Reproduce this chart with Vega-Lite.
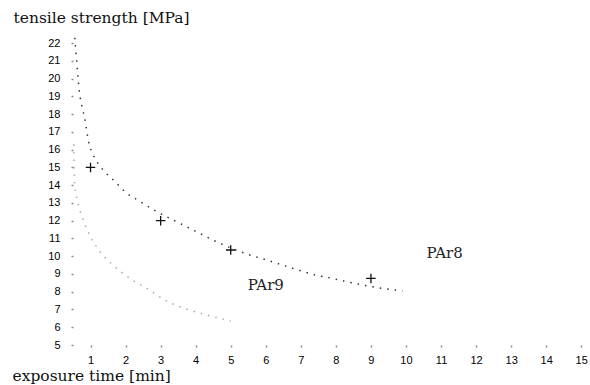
{
  "$schema": "https://vega.github.io/schema/vega-lite/v6.json",
  "width": 517,
  "height": 309,
  "autosize": {"type": "none"},
  "padding": {"left": 73, "top": 36, "right": 0, "bottom": 40},
  "background": "white",
  "config": {"view": {"stroke": null}},
  "datasets": {
    "curves": [
      {"series": "PAr8", "t": 0.55, "s": 22.3},
      {"series": "PAr8", "t": 0.58, "s": 21.6},
      {"series": "PAr8", "t": 0.62, "s": 20.6},
      {"series": "PAr8", "t": 0.68, "s": 19.3},
      {"series": "PAr8", "t": 0.76, "s": 18.4},
      {"series": "PAr8", "t": 0.83, "s": 17.8},
      {"series": "PAr8", "t": 0.94, "s": 16.5},
      {"series": "PAr8", "t": 1.1, "s": 15.6},
      {"series": "PAr8", "t": 1.3, "s": 15.0},
      {"series": "PAr8", "t": 1.7, "s": 14.2},
      {"series": "PAr8", "t": 2.0, "s": 13.6},
      {"series": "PAr8", "t": 2.4, "s": 13.1},
      {"series": "PAr8", "t": 2.9, "s": 12.5},
      {"series": "PAr8", "t": 3.5, "s": 11.9},
      {"series": "PAr8", "t": 4.1, "s": 11.3},
      {"series": "PAr8", "t": 4.5, "s": 10.9},
      {"series": "PAr8", "t": 5.5, "s": 10.1},
      {"series": "PAr8", "t": 6.0, "s": 9.8},
      {"series": "PAr8", "t": 6.8, "s": 9.3},
      {"series": "PAr8", "t": 7.4, "s": 8.95},
      {"series": "PAr8", "t": 7.9, "s": 8.75},
      {"series": "PAr8", "t": 8.7, "s": 8.4},
      {"series": "PAr8", "t": 9.3, "s": 8.2},
      {"series": "PAr8", "t": 9.9, "s": 8.05},
      {"series": "PAr9", "t": 0.52, "s": 16.3},
      {"series": "PAr9", "t": 0.53, "s": 15.0},
      {"series": "PAr9", "t": 0.55, "s": 14.0},
      {"series": "PAr9", "t": 0.62, "s": 13.2},
      {"series": "PAr9", "t": 0.8, "s": 12.0},
      {"series": "PAr9", "t": 1.0, "s": 11.1},
      {"series": "PAr9", "t": 1.25, "s": 10.3},
      {"series": "PAr9", "t": 1.7, "s": 9.4},
      {"series": "PAr9", "t": 2.2, "s": 8.65},
      {"series": "PAr9", "t": 2.6, "s": 8.2},
      {"series": "PAr9", "t": 3.15, "s": 7.5},
      {"series": "PAr9", "t": 3.7, "s": 7.05},
      {"series": "PAr9", "t": 4.3, "s": 6.7},
      {"series": "PAr9", "t": 5.0, "s": 6.35}
    ],
    "measured": [
      {"t": 1, "s": 15.0},
      {"t": 3, "s": 12.0},
      {"t": 5, "s": 10.35},
      {"t": 9, "s": 8.75}
    ],
    "labels": [
      {"t": 11.1, "s": 10.2, "label": "PAr8"},
      {"t": 6.0, "s": 8.4, "label": "PAr9"}
    ]
  },
  "encoding": {
    "x": {
      "field": "t",
      "type": "quantitative",
      "scale": {"domain": [0.5, 15.25], "nice": false, "zero": false},
      "axis": {
        "values": [1,2,3,4,5,6,7,8,9,10,11,12,13,14,15],
        "domain": false,
        "grid": false,
        "tickSize": 2,
        "tickWidth": 1.5,
        "tickColor": "#888",
        "labelPadding": 7,
        "labelFont": "Liberation Sans",
        "labelFontSize": 11,
        "labelColor": "#000",
        "title": "exposure time [min]",
        "titleFont": "DejaVu Serif",
        "titleFontWeight": "normal",
        "titleFontSize": 15.5,
        "titleColor": "#111",
        "titleAnchor": "start",
        "titleAlign": "left",
        "titleBaseline": "alphabetic",
        "titleX": -61,
        "titleY": 35
      }
    },
    "y": {
      "field": "s",
      "type": "quantitative",
      "scale": {"domain": [5, 22.4], "nice": false, "zero": false},
      "axis": {
        "values": [5,6,7,8,9,10,11,12,13,14,15,16,17,18,19,20,21,22],
        "domain": false,
        "grid": false,
        "tickSize": 2,
        "tickWidth": 1.5,
        "tickColor": "#888",
        "labelPadding": 11,
        "labelFont": "Liberation Sans",
        "labelFontSize": 11,
        "labelColor": "#000",
        "title": "tensile strength [MPa]",
        "titleFont": "DejaVu Serif",
        "titleFontWeight": "normal",
        "titleFontSize": 15.5,
        "titleColor": "#111",
        "titleAngle": 0,
        "titleAlign": "left",
        "titleBaseline": "alphabetic",
        "titleX": -60,
        "titleY": -14
      }
    }
  },
  "layer": [
    {
      "data": {"name": "curves"},
      "mark": {"type": "line", "interpolate": "monotone", "strokeDash": [1.5, 6], "strokeWidth": 1.5},
      "encoding": {
        "detail": {"field": "series"},
        "color": {
          "field": "series",
          "type": "nominal",
          "scale": {"domain": ["PAr8", "PAr9"], "range": ["#333", "#aaa"]},
          "legend": null
        }
      }
    },
    {
      "data": {"name": "measured"},
      "mark": {"type": "point", "shape": "M-1,0L1,0M0,-1L0,1", "size": 90, "filled": false, "stroke": "#111", "strokeWidth": 1.3, "opacity": 1}
    },
    {
      "data": {"name": "labels"},
      "mark": {"type": "text", "font": "DejaVu Serif", "fontSize": 15, "color": "#222", "align": "center", "baseline": "middle"},
      "encoding": {"text": {"field": "label"}}
    }
  ]
}
